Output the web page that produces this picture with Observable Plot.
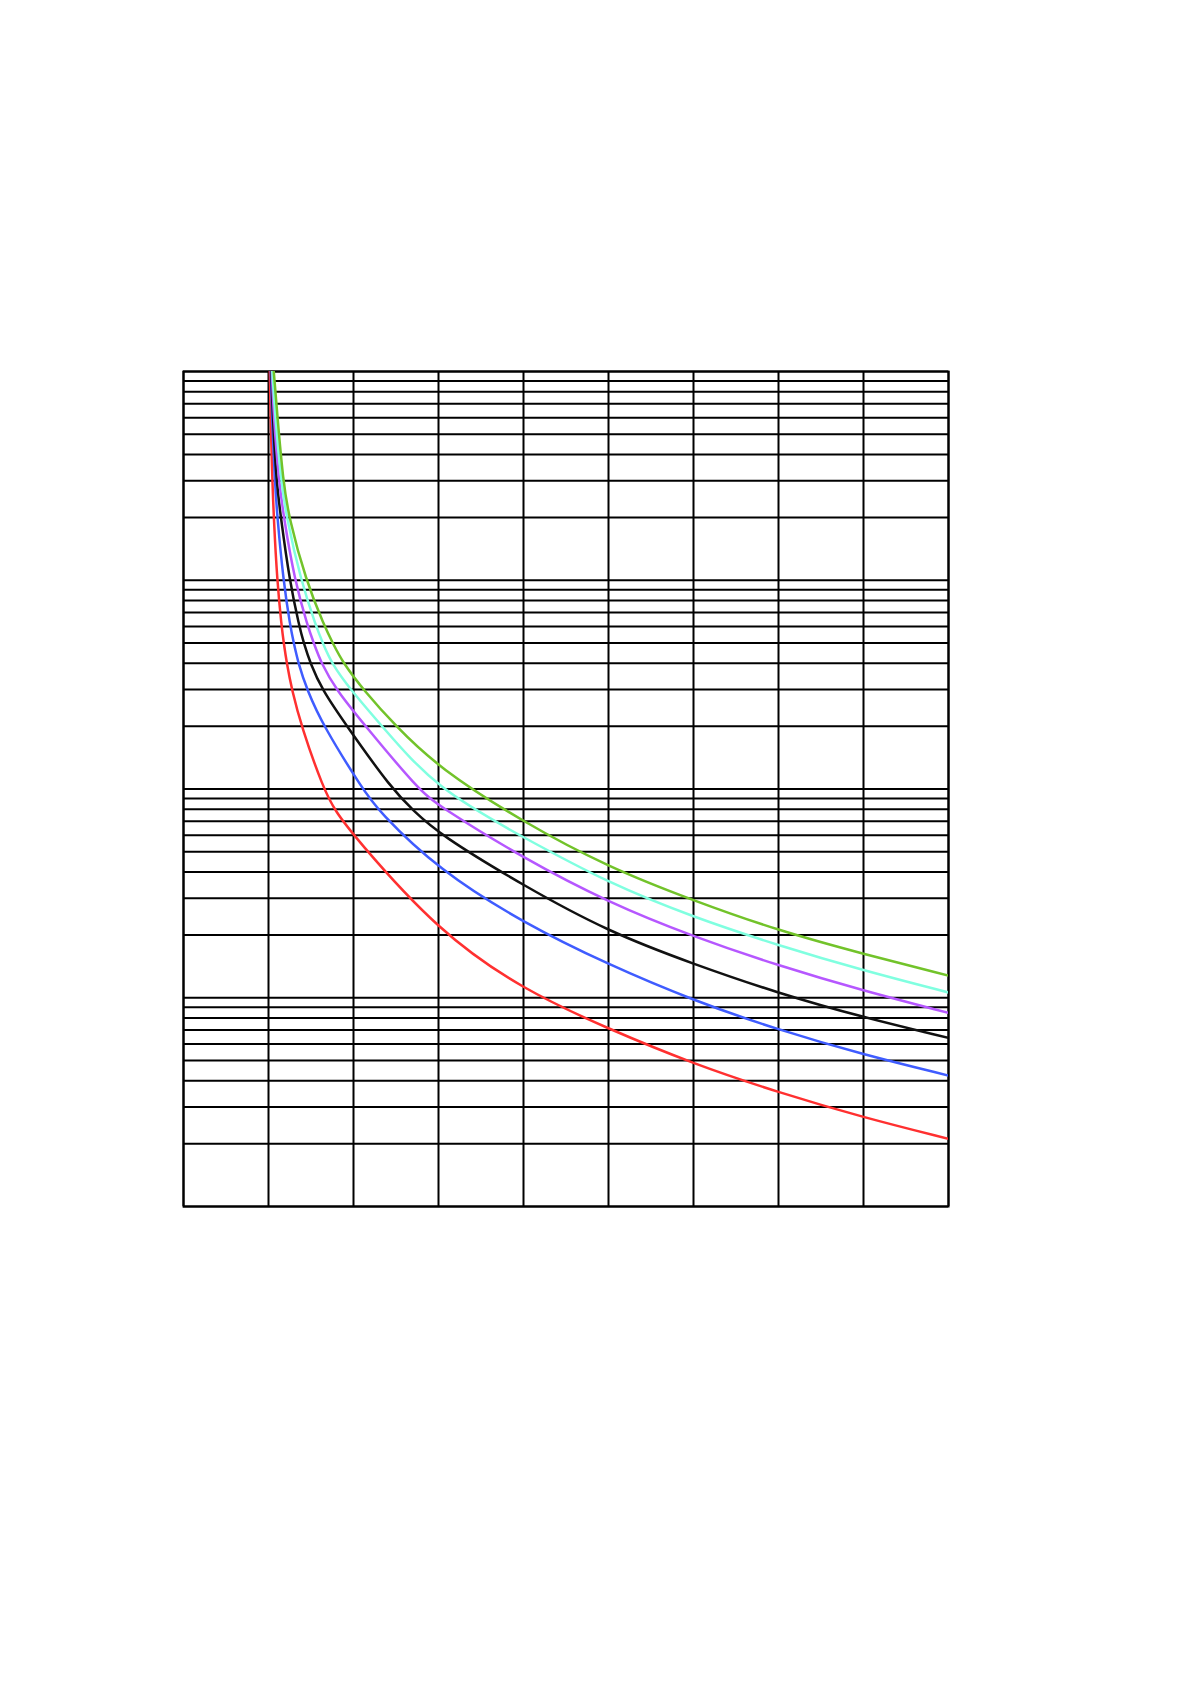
<!DOCTYPE html>
<html>
<head>
<meta charset="utf-8">
<script src="https://cdn.jsdelivr.net/npm/d3@7"></script>
<script src="https://cdn.jsdelivr.net/npm/@observablehq/plot@0.6"></script>
<style>
  html, body { margin: 0; padding: 0; background: #fff; }
  #chart svg { display: block; }
</style>
</head>
<body>
<div id="chart"></div>
<script>
// Vertical grid positions (x categories)
const xGrid = [0, 1, 2, 3, 4, 5, 6, 7, 8, 9];
// Horizontal grid positions (log decades)
const yGrid = [
  0.01, 0.02, 0.03, 0.04, 0.05, 0.06, 0.07, 0.08, 0.09,
  0.1, 0.2, 0.3, 0.4, 0.5, 0.6, 0.7, 0.8, 0.9,
  1, 2, 3, 4, 5, 6, 7, 8, 9,
  10, 20, 30, 40, 50, 60, 70, 80, 90,
  100
];

// Curves: [x, y]
const redCurve = [[1.015,100],[1.025,60],[1.045,30],[1.062,20],[1.101,10],[1.154,6],[1.18,5],[1.215,4],[1.274,3],[1.386,2],[1.647,1],[1.784,0.787],[2,0.597],[3,0.207],[4,0.109],[5,0.0709],[6,0.0482],[7,0.0352],[8,0.0267],[9,0.0211]];
const blueCurve = [[1.027,100],[1.042,60],[1.074,30],[1.104,20],[1.174,10],[1.256,6],[1.298,5],[1.351,4],[1.451,3],[1.645,2],[2.108,1],[2.288,0.787],[3,0.41],[4,0.228],[5,0.144],[6,0.0969],[7,0.0701],[8,0.0534],[9,0.0424]];
const blackCurve = [[1.033,100],[1.051,60],[1.092,30],[1.145,20],[1.247,10],[1.362,6],[1.415,5],[1.492,4],[1.627,3],[1.921,2],[2.45,1],[2.706,0.787],[3,0.61],[4,0.344],[5,0.207],[6,0.145],[7,0.105],[8,0.0805],[9,0.0642]];
const purpleCurve = [[1.039,100],[1.062,60],[1.121,30],[1.18,20],[1.307,10],[1.462,6],[1.533,5],[1.621,4],[1.792,3],[2.141,2],[2.759,1],[3,0.83],[4,0.466],[5,0.286],[6,0.196],[7,0.1425],[8,0.108],[9,0.0846]];
const cyanCurve = [[1.045,100],[1.08,60],[1.148,30],[1.212,20],[1.38,10],[1.56,6],[1.639,5],[1.742,4],[1.962,3],[2.335,2],[2.977,1],[4,0.586],[5,0.354],[6,0.243],[7,0.178],[8,0.135],[9,0.106]];
const greenCurve = [[1.062,100],[1.106,60],[1.172,30],[1.239,20],[1.439,10],[1.659,6],[1.756,5],[1.88,4],[2.112,3],[2.496,2],[3,1.265],[4,0.692],[5,0.422],[6,0.292],[7,0.2096],[8,0.162],[9,0.1276]];

const series = [
  {data: redCurve, color: "#ff3030"},
  {data: blueCurve, color: "#3f5cff"},
  {data: blackCurve, color: "#111111"},
  {data: purpleCurve, color: "#b657ff"},
  {data: cyanCurve, color: "#80ffe0"},
  {data: greenCurve, color: "#72c32a"}
];

const chart = Plot.plot({
  width: 1191,
  height: 1684,
  marginLeft: 183,
  marginRight: 243,
  marginTop: 371,
  marginBottom: 478,
  x: {domain: [0, 9], axis: null},
  y: {type: "log", domain: [0.01, 100], axis: null},
  marks: [
    Plot.ruleY(yGrid, {stroke: "#000", strokeWidth: 2}),
    Plot.ruleX(xGrid, {stroke: "#000", strokeWidth: 2}),
    Plot.frame({stroke: "#000", strokeWidth: 2}),
    ...series.map(s => Plot.line(s.data, {
      x: d => d[0], y: d => d[1],
      stroke: s.color, strokeWidth: 2.5,
      curve: "basis", clip: true
    }))
  ]
});
document.getElementById("chart").appendChild(chart);
</script>
</body>
</html>
